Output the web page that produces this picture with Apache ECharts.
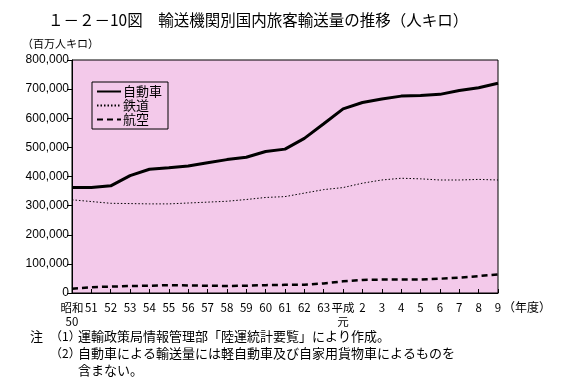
<!DOCTYPE html>
<html><head><meta charset="utf-8">
<script src="https://cdn.jsdelivr.net/npm/echarts@6/dist/echarts.min.js"></script>
<style>html,body{margin:0;padding:0;background:#fff}#c{width:562px;height:386px}</style>
</head><body><div id="c"></div>
<script>
const categories = ['昭和\n50','51','52','53','54','55','56','57','58','59','60','61','62','63','平成\n元','2','3','4','5','6','7','8','9'];
const car  = [362,362,368,403,425,430,436,447,458,466,486,494,531,581,632,654,666,676,678,682,695,705,720];
const rail = [320,314,308,307,306,306,309,312,315,321,328,331,343,355,362,377,388,394,392,388,388,390,388];
const air  = [15,20,22,24,25,27,26,25,24,25,27,28,28,33,40,45,46,46,46,49,53,58,64];
const yTicks = [0,100000,200000,300000,400000,500000,600000,700000,800000];
const k = v => v*1000;
const font = '"Liberation Sans", Arial, sans-serif';
const jp = '"Noto Sans CJK JP", sans-serif';
const chart = echarts.init(document.getElementById('c'), null, {renderer:'canvas'});
chart.setOption({
  animation:false,
  backgroundColor:'#fff',
  grid:{left:72,right:64,top:60,bottom:93,show:true,backgroundColor:'#f3c9ea',borderColor:'#000',borderWidth:1},
  legend:{
    orient:'vertical',left:92,top:82,padding:[3,6,3,4],itemGap:1,
    itemWidth:24,itemHeight:10,
    borderColor:'#000',borderWidth:1,backgroundColor:'#f3c9ea',
    itemStyle:{opacity:0},
    textStyle:{fontFamily:jp,fontSize:13,color:'#000',padding:[0,0,0,-3]},
    data:['自動車','鉄道','航空']
  },
  xAxis:{
    type:'category',boundaryGap:false,data:categories,
    axisLine:{lineStyle:{color:'#000',width:1}},
    axisTick:{inside:true,length:4,lineStyle:{color:'#000'},alignWithLabel:true},
    axisLabel:{interval:0,color:'#000',fontFamily:jp,fontSize:11.5,lineHeight:14,margin:8,verticalAlign:'top'},
    splitLine:{show:false}
  },
  yAxis:{
    type:'value',min:0,max:800000,interval:100000,
    axisLine:{show:true,lineStyle:{color:'#000',width:1}},
    axisTick:{show:true,length:5,lineStyle:{color:'#000'}},
    axisLabel:{color:'#000',fontFamily:font,fontSize:12,margin:3,
      formatter:v=>yTicks.includes(v)?v.toLocaleString('en-US'):''},
    splitLine:{show:false}
  },
  series:[
    {name:'自動車',type:'line',symbol:'none',data:car.map(k),lineStyle:{color:'#000',width:3},itemStyle:{color:'#000'}},
    {name:'鉄道',type:'line',symbol:'none',data:rail.map(k),lineStyle:{color:'#000',width:1,type:[1.5,2]},itemStyle:{color:'#000'}},
    {name:'航空',type:'line',symbol:'none',data:air.map(k),lineStyle:{color:'#000',width:2.5,type:[6,4]},itemStyle:{color:'#000'}}
  ],
  graphic:[
    {type:'text',left:48,top:12,style:{text:'１－２－10図　輸送機関別国内旅客輸送量の推移（人キロ）',font:'15.5px '+jp,fill:'#000'}},
    {type:'text',left:22,top:38,style:{text:'（百万人キロ）',font:'11px '+jp,fill:'#000'}},
    {type:'text',left:503,top:301,style:{text:'（年度）',font:'12px '+jp,fill:'#000'}},
    {type:'text',left:30,top:330,style:{text:'注',font:'13px '+jp,fill:'#000'}},
    {type:'text',left:50,top:330,style:{text:'（1）',font:'12px '+jp,fill:'#000'}},
    {type:'text',left:78,top:330,style:{text:'運輸政策局情報管理部「陸運統計要覧」により作成。',font:'13px '+jp,fill:'#000'}},
    {type:'text',left:50,top:347,style:{text:'（2）',font:'12px '+jp,fill:'#000'}},
    {type:'text',left:78,top:347,style:{text:'自動車による輸送量には軽自動車及び自家用貨物車によるものを',font:'13px '+jp,fill:'#000'}},
    {type:'text',left:78,top:364,style:{text:'含まない。',font:'13px '+jp,fill:'#000'}}
  ]
});
</script></body></html>
